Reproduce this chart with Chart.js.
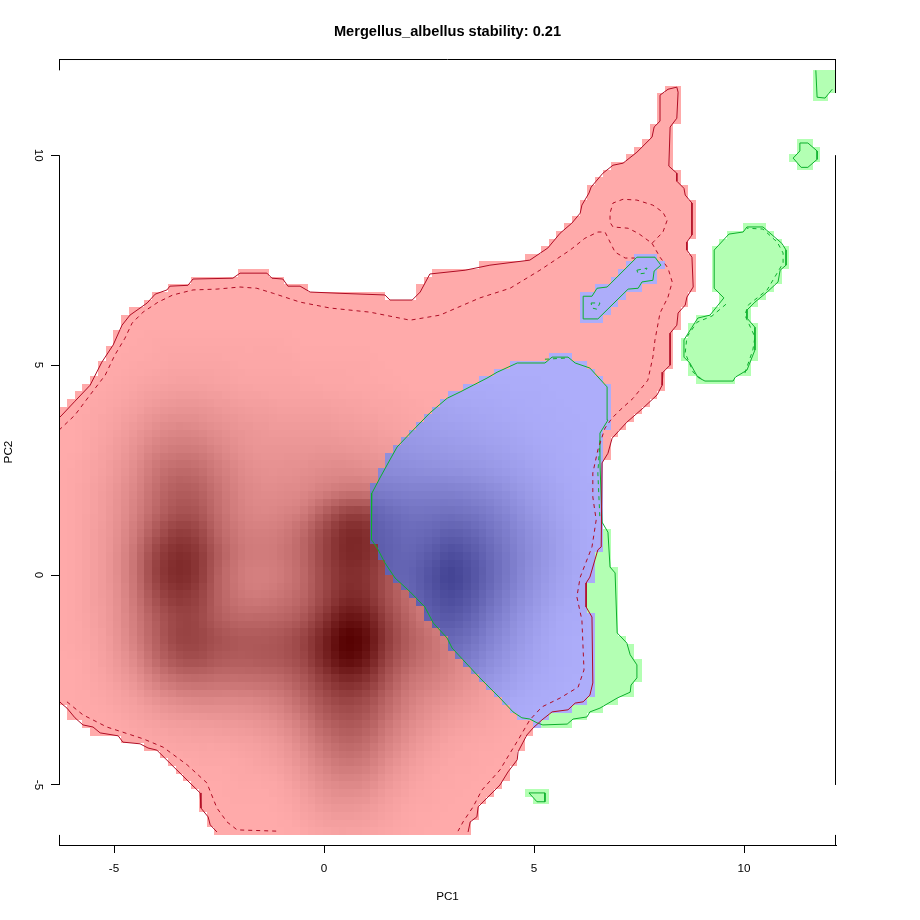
<!DOCTYPE html>
<html>
<head>
<meta charset="utf-8">
<title>Mergellus_albellus stability</title>
<script src="https://cdn.jsdelivr.net/npm/chart.js@4"></script>
<style>
html, body { margin: 0; padding: 0; background: #fff; }
#wrap { width: 920px; height: 920px; }
</style>
</head>
<body>
<div id="wrap"><canvas id="nicheChart" width="920" height="920"></canvas></div>
<script>
const chartTitle = 'Mergellus_albellus stability: 0.21';
const xTicks = [-5, 0, 5, 10];
const yTicks = [-5, 0, 5, 10];

// solid contour of the first niche (red), upper part from the left edge to the bottom edge
const redTop = [[-6.31,3.74],[-6.24,3.81],[-5.93,4.14],[-5.57,4.52],[-5.29,5.07],[-5.02,5.48],[-4.81,5.95],[-4.62,6.19],[-4.21,6.48],[-4.02,6.69],[-3.74,6.79],[-3.67,6.88],[-3.24,6.90],[-3.12,7.05],[-2.17,7.07],[-2.00,7.19],[-1.36,7.19],[-1.24,7.07],[-0.98,7.05],[-0.86,6.88],[-0.57,6.88],[-0.33,6.74],[0.38,6.71],[1.45,6.67],[1.57,6.55],[2.10,6.55],[2.29,6.74],[2.52,7.17],[3.36,7.26],[3.95,7.38],[4.90,7.50],[5.33,7.79],[5.62,8.14],[5.90,8.38],[6.10,8.62],[6.14,8.81],[6.31,9.10],[6.36,9.24],[6.64,9.57],[6.88,9.76],[7.12,9.81],[7.45,10.07],[7.81,10.43],[7.86,10.67],[8.00,10.81],[8.00,11.43],[8.19,11.57],[8.40,11.62],[8.43,11.50],[8.40,10.88],[8.24,10.67],[8.21,9.74],[8.40,9.57],[8.40,9.38],[8.57,9.21],[8.60,9.05],[8.76,8.86],[8.76,8.10],[8.64,7.93],[8.64,7.74],[8.76,7.57],[8.79,6.86],[8.64,6.62],[8.60,6.43],[8.43,6.24],[8.40,5.95],[8.24,5.76],[8.24,5.00],[8.07,4.83],[8.05,4.52],[7.93,4.29],[7.60,3.98],[7.21,3.64],[6.86,3.26],[6.76,2.90],[6.62,2.67],[6.60,0.67],[6.52,0.60],[6.45,0.36],[6.33,-0.05],[6.24,-0.19],[6.24,-0.76],[6.38,-1.00],[6.40,-2.57],[6.33,-2.86],[6.17,-3.02],[5.98,-3.05],[5.81,-3.21],[5.43,-3.26],[5.19,-3.45],[4.98,-3.64],[4.83,-3.81],[4.74,-3.98],[4.62,-4.21],[4.60,-4.40],[4.38,-4.69],[4.19,-5.00],[3.67,-5.52],[3.64,-5.76],[3.48,-5.88],[3.43,-6.12]];
// lower left part of the same contour
const redLow = [[-6.31,-3.00],[-6.24,-3.07],[-6.12,-3.17],[-5.93,-3.40],[-5.74,-3.57],[-5.50,-3.62],[-5.33,-3.76],[-4.90,-3.83],[-4.79,-3.98],[-4.38,-4.02],[-4.19,-4.12],[-3.98,-4.17],[-3.67,-4.48],[-2.95,-5.19],[-2.93,-5.55],[-2.76,-5.76],[-2.71,-5.95],[-2.55,-6.12]];
// dashed contours of the first niche
const redDashA = [[-6.31,3.45],[-5.93,3.81],[-5.57,4.29],[-5.21,4.76],[-4.98,5.24],[-4.74,5.64],[-4.57,6.00],[-4.31,6.26],[-3.95,6.50],[-3.60,6.67],[-3.12,6.79],[-2.55,6.81],[-2.00,6.86],[-1.60,6.83],[-1.21,6.71],[-0.57,6.50],[0.14,6.36],[1.10,6.26],[2.05,6.07],[2.76,6.19],[3.71,6.60],[4.43,6.83],[5.14,7.26],[5.86,7.74],[6.21,8.02],[6.52,8.17],[6.69,8.17],[6.81,7.93],[6.93,7.69],[7.17,7.55],[7.40,7.55]];
const redDashB = [[7.81,7.90],[8.00,7.57],[8.19,7.31],[8.29,6.98],[8.19,6.62],[8.00,6.24],[7.88,5.60],[7.83,5.19],[7.71,4.64],[7.36,4.21],[7.05,3.93],[6.86,3.74],[6.69,3.50],[6.52,2.98],[6.40,2.43],[6.40,1.86],[6.48,1.31],[6.38,0.67],[6.10,-0.05],[6.02,-0.52],[6.14,-1.07],[6.19,-2.26],[6.05,-2.67],[5.62,-2.93],[5.19,-3.14],[4.90,-3.45],[4.62,-3.93],[4.43,-4.24],[4.19,-4.64],[3.76,-5.12],[3.55,-5.52],[3.31,-5.88],[3.19,-6.10]];
const redDashLoop = [[7.81,7.90],[8.07,8.17],[8.17,8.45],[8.07,8.64],[7.83,8.81],[7.45,8.93],[7.12,8.95],[6.88,8.86],[6.81,8.62],[6.81,8.40],[6.88,8.29],[7.24,8.26],[7.48,8.14],[7.81,7.90]];
const redDashC = [[-6.12,-3.02],[-5.74,-3.33],[-5.17,-3.62],[-4.31,-3.90],[-3.83,-4.10],[-3.26,-4.52],[-2.79,-4.95],[-2.55,-5.55],[-2.31,-5.88],[-2.07,-6.07],[-1.12,-6.10]];

// solid contours of the second niche (green)
const greenMain = [[1.14,0.83],[1.29,0.60],[1.45,0.29],[1.69,-0.07],[2.05,-0.40],[2.40,-0.76],[2.60,-1.14],[2.93,-1.50],[3.05,-1.74],[3.31,-2.02],[3.71,-2.45],[4.19,-2.93],[4.50,-3.26],[4.71,-3.40],[4.90,-3.43],[5.07,-3.52],[5.21,-3.57],[5.79,-3.55],[5.93,-3.43],[6.26,-3.38],[6.33,-3.26],[6.57,-3.17],[6.98,-2.93],[7.29,-2.79],[7.31,-2.62],[7.45,-2.45],[7.45,-2.14],[7.29,-1.90],[7.21,-1.62],[6.98,-1.38],[6.93,0.05],[6.81,0.19],[6.76,1.02],[6.62,1.26],[6.57,2.67],[6.57,3.38],[6.76,3.69],[6.74,4.48],[6.33,4.93],[5.98,5.05],[5.81,5.19],[5.43,5.19],[5.26,5.05],[4.60,5.05],[4.12,4.83],[3.88,4.69],[3.55,4.52],[3.24,4.36],[2.93,4.21],[2.52,3.86],[2.12,3.45],[1.74,3.05],[1.50,2.62],[1.33,2.31],[1.14,1.95],[1.12,1.55],[1.14,0.83]];
const greenSliver = [[6.17,6.64],[6.38,6.64],[6.50,6.83],[6.74,6.86],[7.45,7.57],[7.88,7.57],[8.02,7.38],[7.86,7.24],[7.83,7.02],[7.57,6.98],[7.48,6.83],[7.24,6.81],[6.52,6.10],[6.17,6.10],[6.17,6.64]];
const greenLobe = [[9.29,7.74],[9.64,8.12],[9.98,8.17],[10.07,8.29],[10.45,8.29],[10.90,7.90],[11.00,7.74],[11.00,7.38],[10.86,7.26],[10.81,6.98],[10.55,6.74],[10.26,6.50],[10.07,6.31],[10.07,6.12],[10.26,5.90],[10.26,5.36],[10.07,4.88],[9.79,4.71],[9.74,4.62],[9.07,4.62],[8.90,4.71],[8.71,5.05],[8.57,5.19],[8.57,5.60],[8.76,5.90],[8.90,6.12],[9.19,6.19],[9.52,6.60],[9.29,6.83],[9.29,7.74]];
const greenBlob = [[11.33,10.29],[11.52,10.29],[11.74,10.10],[11.74,9.90],[11.52,9.71],[11.36,9.71],[11.17,9.93],[11.33,10.10],[11.33,10.29]];
const greenFoot = [[4.88,-5.19],[5.26,-5.19],[5.26,-5.40],[5.07,-5.40],[4.88,-5.19]];
const greenCorner = [[11.71,12.02],[11.74,11.38],[11.93,11.36],[12.10,11.57]];
// dashed contours of the second niche
const greenDashEdge = [[6.57,3.21],[6.52,2.43],[6.57,1.31]];
const greenDashTop = [[5.26,5.14],[5.81,5.17]];
const greenDashA = [[7.45,7.26],[7.69,7.31],[7.64,7.19],[7.48,7.17],[7.45,7.26]];
const greenDashB = [[6.36,6.48],[6.57,6.48],[6.50,6.33],[6.38,6.36],[6.36,6.48]];
const greenDashLow = [[9.57,6.45],[9.24,6.17],[8.88,6.02],[8.64,5.67],[8.60,5.29],[8.79,4.83],[9.02,4.64]];
const greenDashHigh = [[10.02,4.81],[10.21,5.36],[10.26,5.67],[10.02,6.19],[10.10,6.43],[10.55,6.79],[10.93,7.43],[10.93,7.67],[10.79,7.93],[10.45,8.24],[10.07,8.26]];

// density of the first niche, 0 to 100, rows from y=6 down in steps of 0.5
const redDensityX = [-6.5,-6,-5.5,-5,-4.5,-4,-3.5,-3,-2.5,-2,-1.5,-1,-0.5,0,0.5,1,1.5,2,2.5,3,3.5,4,4.5,5];
const redDensityY = [6,5.5,5,4.5,4,3.5,3,2.5,2,1.5,1,0.5,0,-0.5,-1,-1.5,-2,-2.5,-3,-3.5,-4,-4.5,-5,-5.5,-6,-6.5];
const redDensity = [
  [0,0,0,0,0,0,0,0,0,0,0,0,0,0,0,0,0,0,0,0,0,0,0,0],
  [0,0,0,0,0,1,1,1,1,1,1,1,0,0,0,0,0,0,0,0,0,0,0,0],
  [0,0,0,0,1,2,3,3,3,2,2,2,1,1,1,1,0,0,0,0,0,0,0,0],
  [0,0,0,1,3,5,6,6,5,4,3,3,3,2,2,1,1,0,0,0,0,0,0,0],
  [0,0,1,3,6,10,12,12,10,8,7,6,6,6,5,4,3,2,1,0,0,0,0,0],
  [0,0,2,5,10,17,20,19,15,12,10,9,9,9,8,7,5,3,2,1,0,0,0,0],
  [0,0,3,7,14,24,28,27,21,15,12,12,12,13,12,11,9,7,4,2,1,0,0,0],
  [0,1,4,9,18,31,38,36,27,19,15,15,16,18,19,17,14,9,5,3,1,0,0,0],
  [0,1,5,11,21,36,46,44,32,22,18,18,20,25,30,30,24,14,8,4,2,0,0,0],
  [0,1,5,12,24,40,52,50,35,24,20,22,27,44,60,60,48,26,12,6,2,0,0,0],
  [0,1,6,13,28,50,65,60,40,28,25,28,38,58,75,74,55,32,16,7,3,0,0,0],
  [0,1,6,14,32,60,74,68,45,30,27,30,40,60,76,74,55,34,18,8,3,0,0,0],
  [0,1,6,14,32,62,76,68,42,28,24,28,38,58,72,70,52,34,20,10,4,1,0,0],
  [0,1,6,13,30,55,68,62,42,30,28,32,40,58,75,72,52,35,22,12,5,1,0,0],
  [0,1,5,12,27,46,60,58,44,38,38,40,48,68,88,84,60,40,26,16,7,2,0,0],
  [0,1,4,11,25,44,60,60,52,48,48,50,60,80,100,94,66,45,34,22,12,4,1,0],
  [0,0,3,9,20,38,52,54,48,46,48,50,58,78,96,88,60,42,32,24,15,7,2,0],
  [0,0,2,6,13,26,34,36,34,34,35,38,48,64,76,70,50,32,26,20,13,7,3,1],
  [0,0,1,3,7,13,18,20,20,20,22,27,38,52,60,55,40,26,18,13,9,5,2,1],
  [0,0,0,1,3,6,8,9,10,11,13,18,28,42,50,46,32,20,13,8,5,3,1,0],
  [0,0,0,0,1,2,3,4,4,5,7,11,20,32,40,36,24,14,8,4,2,1,0,0],
  [0,0,0,0,0,0,0,1,1,2,4,7,14,24,30,27,17,9,4,2,1,0,0,0],
  [0,0,0,0,0,0,0,0,0,1,1,3,9,16,20,18,10,5,2,1,0,0,0,0],
  [0,0,0,0,0,0,0,0,0,0,0,1,5,10,12,10,6,2,1,0,0,0,0,0],
  [0,0,0,0,0,0,0,0,0,0,0,0,2,5,6,5,3,1,0,0,0,0,0,0],
  [0,0,0,0,0,0,0,0,0,0,0,0,0,1,2,1,0,0,0,0,0,0,0,0]
];

// density of the overlap, 0 to 100, rows from y=5.5 down in steps of 0.5
const blueDensityX = [1,1.5,2,2.5,3,3.5,4,4.5,5,5.5,6,6.5,7];
const blueDensityY = [5.5,5,4.5,4,3.5,3,2.5,2,1.5,1,0.5,0,-0.5,-1,-1.5,-2,-2.5,-3,-3.5];
const blueDensity = [
  [0,0,0,0,0,0,0,0,0,0,0,0,0],
  [1,1,1,1,1,0,0,0,0,0,0,0,0],
  [5,5,4,3,3,2,2,1,1,0,0,0,0],
  [20,15,12,10,8,6,5,3,2,1,0,0,0],
  [24,20,16,14,12,10,8,6,3,2,1,0,0],
  [28,26,22,20,18,16,13,10,6,3,1,0,0],
  [35,32,30,28,26,24,20,15,10,5,2,0,0],
  [48,45,42,42,42,38,32,24,15,8,3,1,0],
  [70,62,54,54,56,52,44,32,20,10,4,1,0],
  [78,70,62,66,74,68,54,40,26,14,5,1,0],
  [78,72,66,76,90,80,62,44,28,15,6,1,0],
  [74,70,68,84,100,86,64,44,26,13,5,1,0],
  [66,64,64,80,92,80,58,38,22,10,4,1,0],
  [60,58,60,72,80,68,48,30,16,6,2,0,0],
  [48,50,54,62,66,56,38,24,12,4,1,0,0],
  [30,36,44,52,54,44,30,18,9,3,1,0,0],
  [15,20,30,38,38,30,20,12,5,2,0,0,0],
  [5,8,15,22,22,16,10,5,2,1,0,0,0],
  [0,2,5,8,8,6,3,1,0,0,0,0,0]
];

// extent of the image() raster in PC units and its number of cells
const rasterX = [-6.31, 12.19];
const rasterY = [-6.19, 12.02];
const rasterCols = 100;
const rasterRows = 100;

const redLine = '#b00c24';
const greenLine = '#0cb02c';

function toPoints(list) {
    return list.map(p => ({ x: p[0], y: p[1] }));
}

function contour(list, color, dashed) {
    return {
        data: toPoints(list),
        showLine: true,
        borderColor: color,
        borderWidth: 1,
        borderDash: dashed ? [4, 4] : [],
        pointRadius: 0,
        tension: 0,
        fill: false
    };
}

// Function to turn polygons given in PC units into a cell mask
function buildMask(polygons) {
    const c = document.createElement('canvas');
    c.width = rasterCols;
    c.height = rasterRows;
    const g = c.getContext('2d', { willReadFrequently: true });
    const w = (rasterX[1] - rasterX[0]) / rasterCols;
    const h = (rasterY[1] - rasterY[0]) / rasterRows;
    g.fillStyle = '#000';
    polygons.forEach(poly => {
        g.beginPath();
        poly.forEach((p, i) => {
            const cx = (p[0] - rasterX[0]) / w;
            const cy = (rasterY[1] - p[1]) / h;
            if (i === 0) g.moveTo(cx, cy); else g.lineTo(cx, cy);
        });
        g.closePath();
        g.fill();
    });
    const px = g.getImageData(0, 0, rasterCols, rasterRows).data;
    return (col, row) => px[(row * rasterCols + col) * 4 + 3] > 36;
}

// Function to resample a density table onto the raster cells with the canvas smoothing
function buildDensity(values, xs, ys) {
    const src = document.createElement('canvas');
    src.width = xs.length;
    src.height = ys.length;
    const sg = src.getContext('2d');
    const img = sg.createImageData(xs.length, ys.length);
    values.forEach((row, j) => row.forEach((v, i) => {
        const k = (j * xs.length + i) * 4;
        const level = Math.round(v * 2.55);
        img.data[k] = img.data[k + 1] = img.data[k + 2] = level;
        img.data[k + 3] = 255;
    }));
    sg.putImageData(img, 0, 0);

    const c = document.createElement('canvas');
    c.width = rasterCols;
    c.height = rasterRows;
    const g = c.getContext('2d', { willReadFrequently: true });
    const w = (rasterX[1] - rasterX[0]) / rasterCols;
    const h = (rasterY[1] - rasterY[0]) / rasterRows;
    const stepX = xs[1] - xs[0];
    const stepY = ys[0] - ys[1];
    g.fillStyle = '#000';
    g.fillRect(0, 0, rasterCols, rasterRows);
    g.imageSmoothingEnabled = true;
    g.imageSmoothingQuality = 'high';
    g.drawImage(src,
        (xs[0] - stepX / 2 - rasterX[0]) / w,
        (rasterY[1] - ys[0] - stepY / 2) / h,
        xs.length * stepX / w,
        ys.length * stepY / h);
    const px = g.getImageData(0, 0, rasterCols, rasterRows).data;
    return (col, row) => px[(row * rasterCols + col) * 4] / 255;
}

function mix(a, b, t) {
    return `rgb(${Math.round(a[0] + (b[0] - a[0]) * t)},${Math.round(a[1] + (b[1] - a[1]) * t)},${Math.round(a[2] + (b[2] - a[2]) * t)})`;
}

const rasterPlugin = {
    id: 'raster',
    beforeDatasetsDraw(chart) {
        const { ctx, scales: { x, y } } = chart;
        const inRed = buildMask([redTop.concat([[3.43, -6.19], [-2.55, -6.19]], redLow.slice().reverse())]);
        const inGreen = buildMask([greenMain, greenSliver, greenLobe, greenBlob, greenFoot,
            greenCorner.concat([[12.19, 11.5], [12.19, 12.02]])]);
        const redLevel = buildDensity(redDensity, redDensityX, redDensityY);
        const blueLevel = buildDensity(blueDensity, blueDensityX, blueDensityY);
        const w = (rasterX[1] - rasterX[0]) / rasterCols;
        const h = (rasterY[1] - rasterY[0]) / rasterRows;

        ctx.save();
        for (let row = 0; row < rasterRows; row++) {
            const top = Math.round(y.getPixelForValue(rasterY[1] - row * h));
            const bottom = Math.round(y.getPixelForValue(rasterY[1] - (row + 1) * h));
            for (let col = 0; col < rasterCols; col++) {
                const r = inRed(col, row);
                const g = inGreen(col, row);
                if (!r && !g) continue;
                const left = Math.round(x.getPixelForValue(rasterX[0] + col * w));
                const right = Math.round(x.getPixelForValue(rasterX[0] + (col + 1) * w));
                if (r && g) ctx.fillStyle = mix([173, 173, 250], [66, 66, 146], blueLevel(col, row));
                else if (r) ctx.fillStyle = mix([255, 170, 170], [85, 0, 0], redLevel(col, row));
                else ctx.fillStyle = 'rgb(179,255,179)';
                ctx.fillRect(left, top, right - left, bottom - top);
            }
        }
        ctx.restore();
    },
    afterDraw(chart) {
        // the axis lines and the parts of the box the raster left uncovered
        const { ctx, chartArea, scales: { x, y } } = chart;
        const l = chartArea.left + 0.5;
        const r = chartArea.right - 0.5;
        const lines = [
            [l, y.getPixelForValue(12.29), l, y.getPixelForValue(12.02)],
            [l, y.getPixelForValue(yTicks[3]), l, y.getPixelForValue(yTicks[0])],
            [l, y.getPixelForValue(-6.19), l, y.getPixelForValue(-6.43)],
            [r, y.getPixelForValue(12.29), r, y.getPixelForValue(11.48)],
            [r, y.getPixelForValue(yTicks[3]), r, y.getPixelForValue(yTicks[0])],
            [r, y.getPixelForValue(-6.19), r, y.getPixelForValue(-6.43)],
            [chartArea.left, chartArea.top + 0.5, chartArea.right, chartArea.top + 0.5]
        ];
        ctx.save();
        ctx.strokeStyle = '#000';
        ctx.lineWidth = 1;
        lines.forEach(s => {
            ctx.beginPath();
            ctx.moveTo(s[0], s[1]);
            ctx.lineTo(s[2], s[3]);
            ctx.stroke();
        });
        ctx.restore();
    }
};

const axisFont = { family: '"Liberation Sans", Arial, sans-serif', size: 11.7 };

window.onload = () => {
    const ctx = document.getElementById('nicheChart').getContext('2d');
    new Chart(ctx, {
        type: 'scatter',
        plugins: [rasterPlugin],
        data: {
            datasets: [
                contour(redDashA, redLine, true),
                contour(redDashB, redLine, true),
                contour(redDashLoop, redLine, true),
                contour(redDashC, redLine, true),
                contour(redTop, redLine, false),
                contour(redLow, redLine, false),
                contour(greenDashEdge, greenLine, true),
                contour(greenDashTop, greenLine, true),
                contour(greenDashA, greenLine, true),
                contour(greenDashB, greenLine, true),
                contour(greenDashLow, greenLine, true),
                contour(greenDashHigh, greenLine, true),
                contour(greenMain, greenLine, false),
                contour(greenSliver, greenLine, false),
                contour(greenLobe, greenLine, false),
                contour(greenBlob, greenLine, false),
                contour(greenFoot, greenLine, false),
                contour(greenCorner, greenLine, false)
            ]
        },
        options: {
            responsive: false,
            animation: false,
            events: [],
            layout: { padding: { left: 0, right: 84, top: 0, bottom: 0 } },
            plugins: {
                legend: { display: false },
                tooltip: { enabled: false },
                title: {
                    display: true,
                    text: chartTitle,
                    fullSize: false,
                    color: '#000',
                    font: { family: axisFont.family, size: 14.6, weight: 'bold' },
                    padding: { top: 23, bottom: 18.5 }
                }
            },
            scales: {
                x: {
                    type: 'linear',
                    min: -6.31,
                    max: 12.19,
                    afterBuildTicks: s => { s.ticks = xTicks.map(v => ({ value: v })); },
                    afterFit: s => { s.height = 75; },
                    grid: { drawOnChartArea: false, drawTicks: true, tickLength: 8, color: '#000' },
                    border: { display: true, color: '#000' },
                    ticks: { color: '#000', font: axisFont, padding: 9, maxRotation: 0, autoSkip: false },
                    title: { display: true, text: 'PC1', color: '#000', font: axisFont, padding: { top: 14, bottom: 16 } }
                },
                y: {
                    type: 'linear',
                    min: -6.43,
                    max: 12.29,
                    afterBuildTicks: s => { s.ticks = yTicks.map(v => ({ value: v })); },
                    afterFit: s => { s.width = 59; },
                    grid: { drawOnChartArea: false, drawTicks: true, tickLength: 8, color: '#000' },
                    border: { display: false },
                    ticks: { color: '#000', font: axisFont, padding: 6, minRotation: -90, maxRotation: -90, crossAlign: 'center', autoSkip: false },
                    title: { display: true, text: 'PC2', color: '#000', font: axisFont, padding: { top: 2, bottom: 0 } }
                }
            }
        }
    });
};
</script>
</body>
</html>
